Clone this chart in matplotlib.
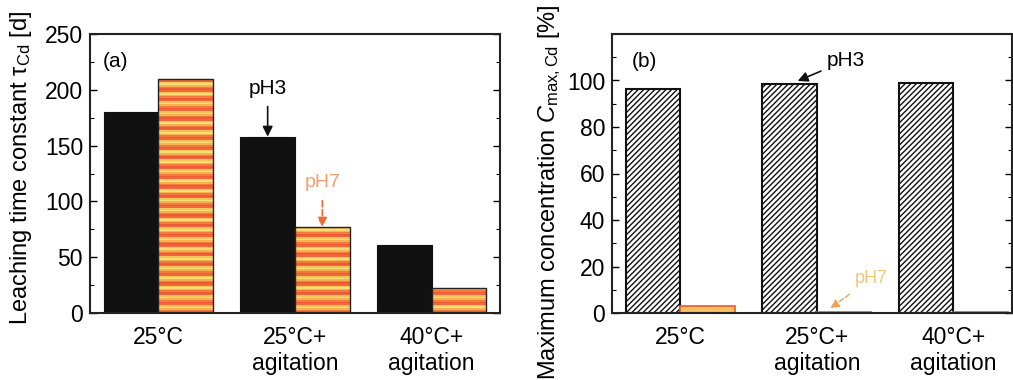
import numpy as np
import matplotlib
matplotlib.use("Agg")
import matplotlib.pyplot as plt
from matplotlib.colors import ListedColormap
from matplotlib.ticker import MultipleLocator

plt.rcParams['font.family'] = ['Liberation Sans', 'DejaVu Sans']
plt.rcParams['mathtext.fontset'] = 'custom'
plt.rcParams['mathtext.rm'] = 'Liberation Sans'
plt.rcParams['mathtext.it'] = 'Liberation Sans:italic'

# data
categories = ['25°C', '25°C+\nagitation', '40°C+\nagitation']
tau_ph3 = [180, 158, 61]
tau_ph7 = [210, 77, 22]
cmax_ph3 = [96.5, 98.3, 99.0]
cmax_ph7 = [3.0, 0.6, 0.3]

x = np.arange(len(categories))
w = 0.4

fig = plt.figure(figsize=(10.13, 3.8), dpi=100)
ax1 = fig.add_axes([90 / 1013, 67 / 380, 410 / 1013, 279 / 380])
ax2 = fig.add_axes([612 / 1013, 67 / 380, 400 / 1013, 279 / 380])

# stripe texture for pH7 bars
stripe_cols = ['#ef5a36', '#f27a3c', '#f6b24e', '#f8dc78', '#f7c458', '#f1683a']
stripe_cmap = ListedColormap(stripe_cols)
stripe_rows = np.tile(np.arange(len(stripe_cols)), 30)[:, None]

# (a)
ax1.bar(x - w / 2, tau_ph3, w, color='#111111', edgecolor='#111111', lw=0.8, zorder=2)
bars7 = ax1.bar(x + w / 2, tau_ph7, w, facecolor='none', edgecolor='#222222', lw=1.0, zorder=3)
for b in bars7:
    im = ax1.imshow(stripe_rows, cmap=stripe_cmap, aspect='auto', interpolation='nearest',
                    extent=[b.get_x(), b.get_x() + b.get_width(), 0, 260], origin='lower', zorder=2)
    im.set_clip_path(b)
ax1.set_xlim(-0.5, 2.5)
ax1.set_ylim(0, 250)
ax1.set_xticks(x)
ax1.set_xticklabels(categories)
ax1.yaxis.set_major_locator(MultipleLocator(50))
ax1.yaxis.set_minor_locator(MultipleLocator(25))
ax1.set_ylabel(r'Leaching time constant τ$_{\rm Cd}$ [d]', fontsize=17)
ax1.yaxis.set_label_coords(-0.136, 0.52)
ax1.text(0.03, 0.9, '(a)', transform=ax1.transAxes, fontsize=15, va='center')
ax1.annotate('pH3', xy=(x[1] - w / 2, tau_ph3[1]), xytext=(x[1] - w / 2, 201),
             ha='center', va='center', fontsize=15,
             arrowprops=dict(arrowstyle='-|>', color='#111111', lw=1.2, shrinkA=4, shrinkB=0))
ax1.annotate('pH7', xy=(x[1] + w / 2, tau_ph7[1]), xytext=(x[1] + w / 2, 117),
             ha='center', va='center', fontsize=14, color='#f3a070',
             arrowprops=dict(arrowstyle='-|>', color='#f06a36', lw=1.2, ls='--', shrinkA=5, shrinkB=0))

# (b)
ax2.bar(x - w / 2, cmax_ph3, w, facecolor='white', edgecolor='#111111', hatch='//////', lw=1.5, zorder=2)
ax2.bar(x + w / 2, cmax_ph7, w, facecolor='#f7c060', edgecolor='#ee5a30', lw=1.2, zorder=2)
ax2.set_xlim(-0.5, 2.43)
ax2.set_ylim(0, 120)
ax2.set_xticks(x)
ax2.set_xticklabels(categories)
ax2.yaxis.set_minor_locator(MultipleLocator(10))
ax2.set_yticks([0, 20, 40, 60, 80, 100])
ax2.set_ylabel(r'Maximum concentration $C_{\rm max,Cd}$ [%]', fontsize=17)
ax2.yaxis.set_label_coords(-0.122, 0.434)
ax2.text(0.05, 0.9, '(b)', transform=ax2.transAxes, fontsize=15, va='center')
ax2.annotate('pH3', xy=(x[1] - w / 2 + 0.06, cmax_ph3[1] + 1.5), xytext=(x[1] + 0.07, 108.5),
             ha='left', va='center', fontsize=15,
             arrowprops=dict(arrowstyle='-|>', color='#111111', lw=1.2, shrinkA=2, shrinkB=0))
ax2.annotate('pH7', xy=(x[1] + 0.1, 2), xytext=(x[1] + 0.4, 15),
             ha='center', va='center', fontsize=13, color='#f2c878',
             arrowprops=dict(arrowstyle='-|>', color='#f3a050', lw=1.0, ls='--', shrinkA=6, shrinkB=0))

for ax in (ax1, ax2):
    ax.tick_params(axis='y', which='both', direction='in', right=True, labelsize=16.5, pad=5)
    ax.tick_params(axis='y', which='major', length=5, width=1)
    ax.tick_params(axis='y', which='minor', length=3, width=0.8)
    ax.tick_params(axis='x', length=0, labelsize=16.5, pad=9)
    for s in ax.spines.values():
        s.set_linewidth(1.5)
        s.set_color('#222222')

fig.savefig('out.png', dpi=100)
